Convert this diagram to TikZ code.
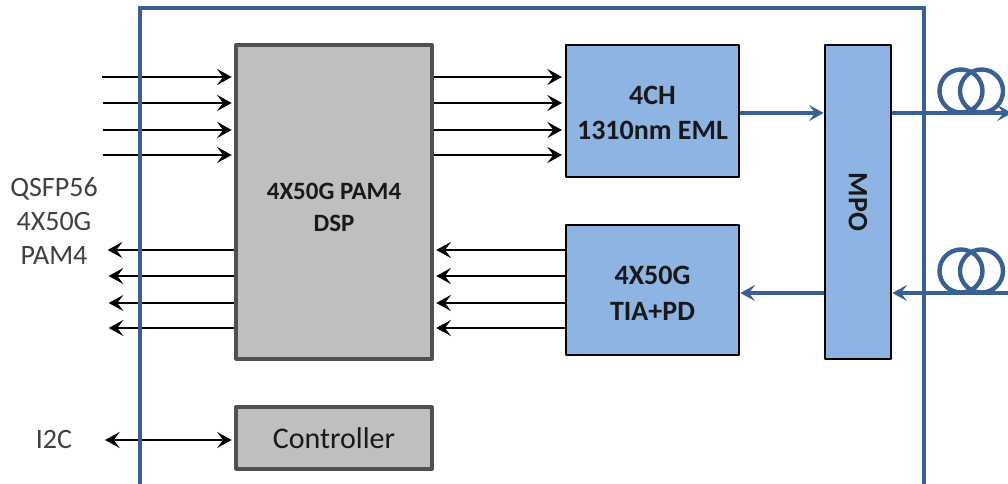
\documentclass[tikz,border=0pt]{standalone}
\usepackage{fontspec}
\setmainfont{Carlito}
\usetikzlibrary{arrows.meta}
\definecolor{framecol}{RGB}{56,96,146}
\definecolor{bluefill}{RGB}{142,180,227}
\definecolor{greyfill}{RGB}{191,191,191}
\definecolor{greyline}{RGB}{80,80,80}
\definecolor{labelcol}{RGB}{64,64,64}

\begin{document}
\begin{tikzpicture}[x=0.75pt,y=-0.75pt,>={Stealth[length=11pt,width=12pt,inset=4.5pt]},
		bluebox/.style={rectangle,draw=black,line width=2pt,line join=round,fill=bluefill,inner sep=0pt,align=center,font=\fontsize{21}{26.5}\selectfont\bfseries,text=black!90},
		greybox/.style={rectangle,draw=greyline,line width=2.4pt,line join=round,fill=greyfill,inner sep=0pt,align=center,text=black!90},
		sig/.style={->,black,line width=1.7pt,shorten >=2pt},
		fib/.style={->,framecol,line width=2.8pt},
		coil/.style={framecol,line width=3.3pt},
		lbl/.style={inner sep=0pt,align=center,text=labelcol,font=\fontsize{21}{25.5}\selectfont}]
		\useasboundingbox (0,0) rectangle (1008,484);
		
		\node[greybox,minimum width=147pt,minimum height=235.5pt,font=\fontsize{18.7}{24}\selectfont\bfseries] (dsp) at (334,202) {\rule{0pt}{20pt}4X50G  PAM4\\DSP};
		\node[greybox,minimum width=147pt,minimum height=46.5pt,font=\fontsize{22.5}{26}\selectfont] (ctrl) at (334,438) {Controller};
		\node[bluebox,minimum width=129.75pt,minimum height=99pt] (eml) at (652.5,111) {\rule{0pt}{17pt}4CH\\1310nm EML};
		\node[bluebox,minimum width=129.75pt,minimum height=97.5pt] (tia) at (652.5,290) {\rule{0pt}{19pt}4X50G\\TIA+PD};
		\node[bluebox,minimum width=49.5pt,minimum height=235.5pt] (mpo) at (858,202) {\rotatebox{-90}{MPO}};
		
		\node[lbl] (qsfp) at (54,221) {QSFP56\\4X50G\\PAM4};
		\node[lbl] (i2c) at (54,440) {I2C};
		
		% free ends
		\coordinate (txa) at (102,77);
		\coordinate (txb) at (103,103);
		\coordinate (txc) at (103,130);
		\coordinate (txd) at (103,155);
		\coordinate (rxa) at (105,250);
		\coordinate (rxb) at (106,276);
		\coordinate (rxc) at (106,303);
		\coordinate (rxd) at (106,328);
		\coordinate (fibout) at (1012,113);
		\coordinate (fibin) at (1012,293);
		\coordinate (i2cend) at (105,440);
		
		\foreach \n in {a,b,c,d}{
			\draw[sig] (tx\n) -- (dsp.west |- tx\n);
			\draw[sig] (dsp.east |- tx\n) -- (eml.west |- tx\n);
			\draw[sig] (dsp.west |- rx\n) -- (rx\n);
			\draw[sig] (tia.west |- rx\n) -- (dsp.east |- rx\n);
		}
		\draw[sig,<->] (i2cend) -- (ctrl.west |- i2cend);
		
		\draw[fib] (eml.east |- fibout) -- (mpo.west |- fibout);
		\draw[fib] (mpo.west |- fibin) -- (tia.east |- fibin);
		\draw[fib] (mpo.east |- fibout) -- (fibout);
		\draw[fib] (fibin) -- (mpo.east |- fibin);
		
		\draw[framecol,line width=3.3pt] (140,486) -- (140,8) -- (924,8) -- (924,486);
		
		\draw[coil] (fibout -| 961,0) ++(0,-22) circle (21.5);
		\draw[coil] (fibout -| 981.5,0) ++(0,-22) circle (21.5);
		\draw[coil] (fibin -| 961,0) ++(0,-22) circle (21.5);
		\draw[coil] (fibin -| 981.5,0) ++(0,-22) circle (21.5);
\end{tikzpicture}
\end{document}
